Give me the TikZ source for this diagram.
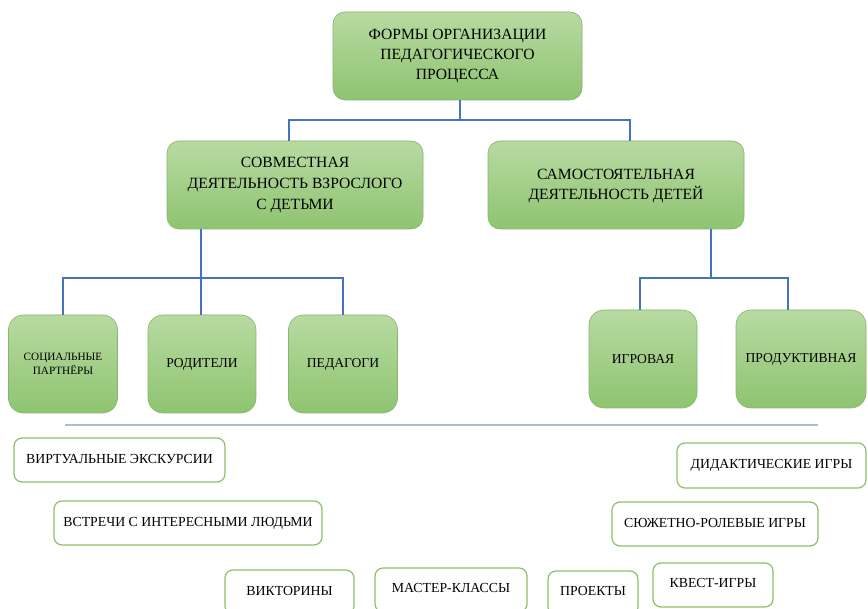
\documentclass[tikz,border=0pt]{standalone}
\usepackage{fontspec}
\setmainfont{Liberation Serif}
\definecolor{gtop}{RGB}{184,218,162}
\definecolor{gbot}{RGB}{142,196,112}
\definecolor{gborder}{RGB}{136,180,108}
\definecolor{oborder}{RGB}{140,192,104}
\definecolor{lblue}{RGB}{68,114,196}
\definecolor{sepc}{RGB}{168,190,216}
\begin{document}
\begin{tikzpicture}[x=1pt,y=-1pt,
  gbox/.style={draw=gborder, line width=0.6pt, rounded corners=12pt, top color=gtop, bottom color=gbot, align=center, inner sep=2pt, text=black},
  sbox/.style={gbox, rounded corners=15pt, minimum height=98pt},
  obox/.style={draw=oborder, line width=1.2pt, rounded corners=8pt, fill=white, align=center, minimum height=44pt, font=\fontsize{13.8}{16}\selectfont},
  conn/.style={draw=lblue, line width=1.6pt},
  sepline/.style={draw=sepc, line width=1.2pt}]
\useasboundingbox (0,0) rectangle (868,609);
\fill[white] (0,0) rectangle (868,609);
\clip (0,0) rectangle (868,609);

% level 1
\node[gbox, minimum width=249pt, minimum height=88pt, font=\fontsize{15.6}{20}\selectfont] (t) at (457.5,56) {ФОРМЫ ОРГАНИЗАЦИИ\\ПЕДАГОГИЧЕСКОГО\\ПРОЦЕССА};
% level 2
\node[gbox, minimum width=256pt, minimum height=88pt, font=\fontsize{15.6}{21}\selectfont] (a) at (295,185) {СОВМЕСТНАЯ\\ДЕЯТЕЛЬНОСТЬ ВЗРОСЛОГО\\С ДЕТЬМИ};
\node[gbox, minimum width=256pt, minimum height=88pt, font=\fontsize{15.6}{21}\selectfont] (b) at (616,185) {\raisebox{3pt}{\begin{tabular}{@{}c@{}}САМОСТОЯТЕЛЬНАЯ\\[-1pt]ДЕЯТЕЛЬНОСТЬ ДЕТЕЙ\end{tabular}}};
% level 3
\node[sbox, minimum width=109pt, font=\fontsize{11.2}{13.5}\selectfont] (pa) at (63,364) {СОЦИАЛЬНЫЕ\\ПАРТНЁРЫ};
\node[sbox, minimum width=108pt, font=\fontsize{13.6}{16}\selectfont] (pb) at (202,364) {РОДИТЕЛИ};
\node[sbox, minimum width=109pt, font=\fontsize{13.6}{16}\selectfont] (pc) at (343,364) {ПЕДАГОГИ};
\node[sbox, minimum width=108pt, font=\fontsize{13.6}{16}\selectfont] (pd) at (643,359) {ИГРОВАЯ};
\node[sbox, minimum width=130pt, font=\fontsize{13.6}{16}\selectfont] (pe) at (801,359) {ПРОДУКТИВНАЯ};

% connectors
\coordinate (j1) at (460,120);
\draw[conn] (t.south -| j1) -- (j1);
\draw[conn] ([xshift=-6pt]a.north) |- (j1) -| ([xshift=14pt]b.north);
\coordinate (j2) at (201,278);
\draw[conn] ([xshift=-94pt]a.south) -- (j2);
\draw[conn] (pa.north) |- (j2) -| (pc.north);
\draw[conn] (j2) -- (pb.north -| j2);
\coordinate (j3) at (711,278);
\draw[conn] ([xshift=95pt]b.south) -- (j3);
\draw[conn] ([xshift=-3pt]pd.north) |- (j3) -| ([xshift=-13pt]pe.north);

% separator
\coordinate (s1) at (65,425);
\coordinate (s2) at (818,425);
\draw[sepline] (s1) -- (s2);

% outline boxes
\node[obox, minimum width=211pt] (v1) at (119.5,460) {\raisebox{3pt}{ВИРТУАЛЬНЫЕ ЭКСКУРСИИ}};
\node[obox, minimum width=268pt] (v2) at (188,523) {\raisebox{3pt}{ВСТРЕЧИ С ИНТЕРЕСНЫМИ ЛЮДЬМИ}};
\node[obox, minimum width=129pt] (v3) at (289.5,592) {\raisebox{3pt}{ВИКТОРИНЫ}};
\node[obox, minimum width=152pt] (v4) at (451,590) {\raisebox{4pt}{МАСТЕР-КЛАССЫ}};
\node[obox, minimum width=90pt] (v5) at (593,593) {\raisebox{5pt}{ПРОЕКТЫ}};
\node[obox, minimum width=120pt] (v6) at (713,585) {\raisebox{5pt}{КВЕСТ-ИГРЫ}};
\node[obox, minimum width=189pt, minimum height=45pt] (v7) at (771.5,465.5) {\raisebox{3pt}{ДИДАКТИЧЕСКИЕ ИГРЫ}};
\node[obox, minimum width=206pt] (v8) at (715,524) {\raisebox{3pt}{СЮЖЕТНО-РОЛЕВЫЕ ИГРЫ}};
\end{tikzpicture}
\end{document}
